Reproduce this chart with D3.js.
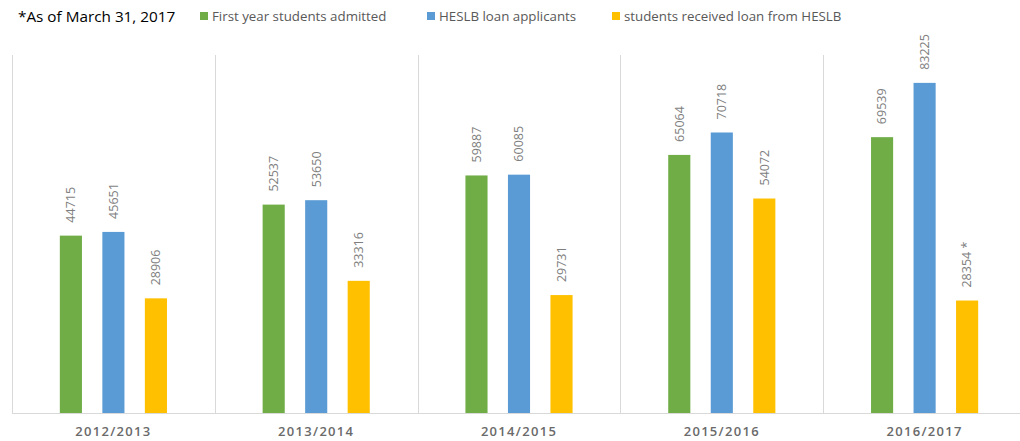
<!DOCTYPE html>
<html><head><meta charset="utf-8">
<script src="https://cdn.jsdelivr.net/npm/d3@7/dist/d3.min.js"></script>
<style>body{margin:0;background:#fff;}svg{display:block;}</style>
</head><body>
<svg id="c" width="1020" height="441"></svg>
<script>
const years = ["2012/2013","2013/2014","2014/2015","2015/2016","2016/2017"];
const seriesNames = ["First year students admitted","HESLB loan applicants","students received loan from HESLB"];
const admitted = [44715,52537,59887,65064,69539];
const applicants = [45651,53650,60085,70718,83225];
const received = [28906,33316,29731,54072,28354];
const receivedSuffix = ["","","",""," *"];
const colors = ["#70AD47","#5B9BD5","#FFC000"];
const note = "*As of March 31, 2017";

const svg = d3.select("#c");
const mLeft = 12, mRight = 1026, mTop = 55, mBottom = 413;
const x0 = d3.scaleBand().domain(years).range([mLeft,mRight]).padding(0);
const x1 = d3.scaleBand().domain([0,1,2]).range([0,x0.bandwidth()]).paddingInner(0.48).paddingOuter(1.125);
const y = d3.scaleLinear().domain([0,90000]).range([mBottom,56]);

const g = svg.append("g");
const bounds = years.map(d=>x0(d)).concat([mRight]);
g.selectAll("line.sep").data(bounds).join("line")
  .attr("x1",d=>Math.round(d)+0.5).attr("x2",d=>Math.round(d)+0.5).attr("y1",mTop).attr("y2",mBottom)
  .attr("stroke","#d9d9d9").attr("stroke-width",1);

const data = [admitted,applicants,received];
years.forEach((yr,i)=>{
  const grp = g.append("g").attr("transform",`translate(${x0(yr)},0)`);
  data.forEach((arr,s)=>{
    const v = arr[i];
    grp.append("rect").attr("x",x1(s)).attr("width",x1.bandwidth())
      .attr("y",y(v)).attr("height",y(0)-y(v)).attr("fill",colors[s]);
    const cx = x1(s)+x1.bandwidth()/2;
    const ty = y(v)-13;
    grp.append("text").attr("transform",`translate(${cx},${ty}) rotate(-90)`)
      .attr("dy","0.35em").attr("text-anchor","start")
      .attr("font-family","Open Sans, sans-serif").attr("font-size",12.5)
      .attr("fill","#7f7f7f")
      .text(v + (s===2 ? receivedSuffix[i] : ""));
  });
});

const xAxis = d3.axisBottom(x0).tickSize(0).tickPadding(14);
const ax = svg.append("g").attr("transform",`translate(0,${mBottom})`).call(xAxis);
ax.select(".domain").attr("stroke","#d9d9d9").attr("d",`M${mLeft},0.5H${mRight}`);
ax.selectAll("text").attr("font-family","Open Sans, sans-serif").attr("font-size",13)
  .attr("font-weight",600).attr("letter-spacing","1.3px").attr("fill","#6a6a6a");

svg.append("text").attr("x",18).attr("y",22).attr("font-family","Open Sans, sans-serif")
  .attr("font-size",15.3).attr("fill","#000").text(note);
const legX = [200,427,612];
seriesNames.forEach((n,s)=>{
  svg.append("rect").attr("x",legX[s]).attr("y",12).attr("width",8).attr("height",8).attr("fill",colors[s]);
  svg.append("text").attr("x",legX[s]+12).attr("y",20.5).attr("font-family","Open Sans, sans-serif")
    .attr("font-size",13.3).attr("fill","#595959").text(n);
});
</script>
</body></html>
